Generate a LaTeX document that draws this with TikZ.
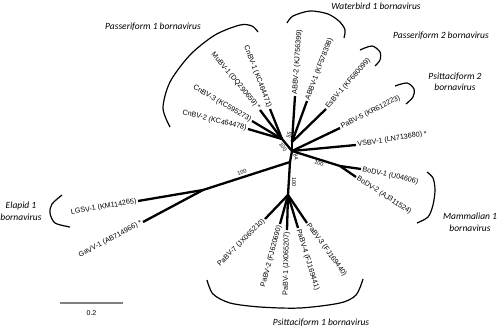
\documentclass[tikz,border=0pt]{standalone}
\usepackage{fontspec}
\setmainfont{Liberation Sans}
\newfontfamily\cladefont{Carlito}
\begin{document}
\begin{tikzpicture}[x=1pt, y=-1pt,
    branch/.style={line width=2.3pt},
    bracket/.style={line width=1.2pt},
    leaf/.style={font=\fontsize{7.2}{8}\selectfont, inner sep=1.5pt},
    boot/.style={font=\fontsize{5.5}{6}\selectfont, inner sep=0pt},
    clade/.style={font=\cladefont\itshape\fontsize{9.5}{11.5}\selectfont, align=center}]
        \useasboundingbox (0,0) rectangle (500,331);

        % Nós internos
        \coordinate (c0) at (292,151);
        \coordinate (c1) at (290,162);
        \coordinate (p1) at (282,139);
        \coordinate (w) at (292,142);
        \coordinate (b) at (340,166);
        \coordinate (e) at (203,190);
        \coordinate (p) at (288,195);

        % Folhas
        \coordinate (cnbv2) at (248,129);
        \coordinate (cnbv3) at (252,121);
        \coordinate (mubv1) at (260,110);
        \coordinate (cnbv1) at (270,109);
        \coordinate (abbv2) at (295,96);
        \coordinate (abbv1) at (307,101);
        \coordinate (esbv1) at (326,109);
        \coordinate (pabv5) at (340,128);
        \coordinate (vsbv1) at (356,145);
        \coordinate (bodv1) at (361,169);
        \coordinate (bodv2) at (356,177);
        \coordinate (lgsv1) at (138,201);
        \coordinate (gavv1) at (143,222);
        \coordinate (pabv7) at (265,219);
        \coordinate (pabv2) at (280,224);
        \coordinate (pabv1) at (287,230);
        \coordinate (pabv4) at (298,228);
        \coordinate (pabv3) at (307,223);

        % Ramos
        \foreach \a/\b in {c0/c1, c0/p1, c0/w, c0/b, c0/pabv5, c0/vsbv1, c1/e, c1/p,
                p1/cnbv2, p1/cnbv3, p1/mubv1, p1/cnbv1, w/abbv2, w/abbv1, w/esbv1,
                b/bodv1, b/bodv2, e/lgsv1, e/gavv1,
                p/pabv7, p/pabv2, p/pabv1, p/pabv4, p/pabv3}
            \draw[branch] (\a) -- (\b);

        % Rótulos das folhas
        \node[leaf, anchor=east, rotate=-14] (lcnbv2) at (cnbv2) {CnBV-2 (KC464478)};
        \node[leaf, anchor=east, rotate=-30] (lcnbv3) at (cnbv3) {CnBV-3 (KC595273)};
        \node[leaf, anchor=east, rotate=-50] (lmubv1) at (mubv1) {MuBV-1 (DQ290659) *};
        \node[leaf, anchor=east, rotate=-69] (lcnbv1) at (cnbv1) {CnBV-1 (KC464471)};
        \node[leaf, anchor=west, rotate=86] (labbv2) at (abbv2) {ABBV-2 (KJ756399)};
        \node[leaf, anchor=west, rotate=69] (labbv1) at (abbv1) {ABBV-1 (KF578398)};
        \node[leaf, anchor=west, rotate=49] (lesbv1) at (esbv1) {EsBV-1 (KF680099)};
        \node[leaf, anchor=west, rotate=27] (lpabv5) at (pabv5) {PaBV-5 (KR612223)};
        \node[leaf, anchor=west, rotate=9] (lvsbv1) at (vsbv1) {VSBV-1 (LN713680) *};
        \node[leaf, anchor=west, rotate=-13] (lbodv1) at (bodv1) {BoDV-1 (U04606)};
        \node[leaf, anchor=west, rotate=-33] (lbodv2) at (bodv2) {BoDV-2 (AJ311524)};
        \node[leaf, anchor=east, rotate=10] (llgsv1) at (lgsv1) {LGSV-1 (KM114265)};
        \node[leaf, anchor=east, rotate=28] (lgavv1) at (gavv1) {GaVV-1 (AB714966) *};
        \node[leaf, anchor=east, rotate=45] (lpabv7) at (pabv7) {PaBV-7 (JX065210)};
        \node[leaf, anchor=east, rotate=75] (lpabv2) at (pabv2) {PaBV-2 (FJ620690)};
        \node[leaf, anchor=east, rotate=89] (lpabv1) at (pabv1) {PaBV-1 (JX065207)};
        \node[leaf, anchor=west, rotate=-73] (lpabv4) at (pabv4) {PaBV-4 (FJ169441)};
        \node[leaf, anchor=west, rotate=-54] (lpabv3) at (pabv3) {PaBV-3 (FJ169440)};

        % Valores de bootstrap
        \node[boot, rotate=18] (bs1) at (242,172) {100};
        \node[boot, rotate=-90] (bs2) at (294,182) {100};
        \node[boot, rotate=-75] (bs3) at (296,157) {84};
        \node[boot, rotate=-20] (bs4) at (319,163) {100};
        \node[boot, rotate=-55] (bs5) at (283,147) {100};
        \node[boot, rotate=75] (bs6) at (289,135) {55};

        % Chaves dos grupos
        \draw[bracket] plot[smooth] coordinates {(170,127) (163,108) (170,82) (190,55) (215,35) (240,25) (252,26) (258,32)};
        \draw[bracket] plot[smooth] coordinates {(287,23) (293,16) (310,11) (328,14) (340,22) (345,30) (344,38)};
        \draw[bracket] plot[smooth] coordinates {(360,50) (372,46) (380,52) (380,60) (375,66)};
        \draw[bracket] plot[smooth] coordinates {(395,86) (407,83) (414,89) (413,97) (406,104)};
        \draw[bracket] plot[smooth] coordinates {(427,172) (433,178) (435,190) (433,205) (428,217) (417,223)};
        \draw[bracket] plot[smooth] coordinates {(207,280) (213,294) (230,303) (260,307) (300,308) (340,303) (356,295) (363,279)};
        \draw[bracket] plot[smooth] coordinates {(62,195) (52,204) (50,213) (55,223) (70,227)};

        % Nomes dos grupos
        \node[clade] (gpass1) at (153,27) {Passeriform 1 bornavirus};
        \node[clade] (gwater1) at (376,6) {Waterbird 1 bornavirus};
        \node[clade] (gpass2) at (441,36) {Passeriform 2 bornavirus};
        \node[clade] (gpsitt2) at (455,82) {Psittaciform 2\\bornavirus};
        \node[clade] (gmamm1) at (470,222) {Mammalian 1\\bornavirus};
        \node[clade] (gpsitt1) at (321,323) {Psittaciform 1 bornavirus};
        \node[clade] (gelap1) at (21,211) {Elapid 1\\bornavirus};

        % Barra de escala
        \coordinate (sb1) at (60,303);
        \coordinate (sb2) at (123,303);
        \draw[line width=1.2pt, gray] (sb1) -- node[below=4pt, text=black, font=\fontsize{7}{8}\selectfont] (sblabel) {0.2} (sb2);

    \end{tikzpicture}
\end{document}
